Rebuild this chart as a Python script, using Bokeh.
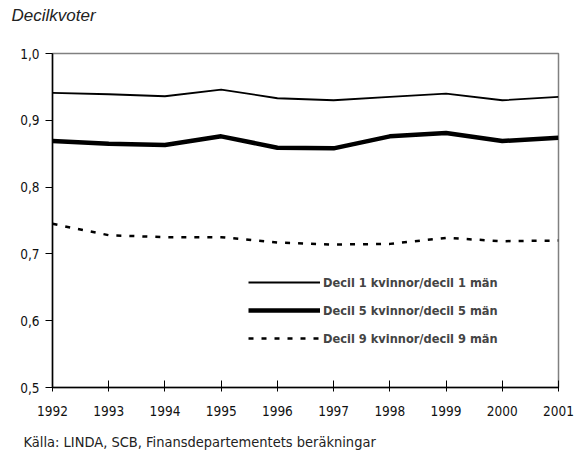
from bokeh.plotting import figure
from bokeh.models import FixedTicker, Legend, LegendItem, Title
from bokeh.embed import file_html
from bokeh.resources import INLINE

years = [1992, 1993, 1994, 1995, 1996, 1997, 1998, 1999, 2000, 2001]
decil1 = [0.941, 0.939, 0.936, 0.946, 0.933, 0.930, 0.935, 0.940, 0.930, 0.935]
decil5 = [0.869, 0.865, 0.863, 0.876, 0.859, 0.858, 0.876, 0.881, 0.869, 0.874]
decil9 = [0.745, 0.728, 0.725, 0.725, 0.717, 0.714, 0.715, 0.724, 0.719, 0.720]
labels = ["Decil 1 kvinnor/decil 1 män", "Decil 5 kvinnor/decil 5 män", "Decil 9 kvinnor/decil 9 män"]
y_ticks = [0.5, 0.6, 0.7, 0.8, 0.9, 1.0]
y_tick_labels = ["0,5", "0,6", "0,7", "0,8", "0,9", "1,0"]
title_text = "Decilkvoter"
source_text = "Källa: LINDA, SCB, Finansdepartementets beräkningar"

NARROW = "'DejaVu Sans Condensed', sans-serif"

p = figure(width=574, height=450, output_backend="svg", toolbar_location=None,
           x_range=(1992, 2001), y_range=(0.5, 1.0),
           min_border_left=52, min_border_right=16, min_border_top=53, min_border_bottom=63)
p.title.text = title_text
p.title.text_font = "Liberation Sans"
p.title.text_font_style = "italic"
p.title.text_font_size = "17px"
p.title.text_color = "#222222"
p.title.align = "left"
p.title.offset = -41
p.title.standoff = 4

# spacer between frame and the title
p.add_layout(Title(text=" ", text_font_size="1px", standoff=24), "above")

p.xgrid.visible = False
p.ygrid.visible = False
p.background_fill_color = "white"
p.border_fill_color = "white"
p.outline_line_color = "#808080"
p.outline_line_width = 1.5

p.xaxis.ticker = FixedTicker(ticks=years)
p.yaxis.ticker = FixedTicker(ticks=y_ticks)
p.yaxis.major_label_overrides = {t: l for t, l in zip(y_ticks, y_tick_labels)}
for ax in (p.xaxis, p.yaxis):
    ax.axis_line_color = "black"
    ax.axis_line_width = 1.5
    ax.major_tick_line_color = "black"
    ax.minor_tick_line_color = None
    ax.major_label_text_font = NARROW
    ax.major_label_text_font_size = "13.5px"
    ax.major_label_text_color = "#111111"
p.xaxis.major_tick_in = 7
p.xaxis.major_tick_out = 4
p.xaxis.major_label_standoff = 14
p.yaxis.major_tick_in = 0
p.yaxis.major_tick_out = 7
p.yaxis.major_label_standoff = 6

r1 = p.line(years, decil1, line_color="black", line_width=1.8)
r5 = p.line(years, decil5, line_color="black", line_width=4.5)
r9 = p.line(years, decil9, line_color="black", line_width=2.5, line_dash="5 8")

legend = Legend(items=[LegendItem(label=labels[0], renderers=[r1]),
                       LegendItem(label=labels[1], renderers=[r5]),
                       LegendItem(label=labels[2], renderers=[r9])],
                location=(196, 39), glyph_width=72, glyph_height=20, label_height=20,
                spacing=8, padding=0, margin=0, label_standoff=3,
                label_text_font=NARROW, label_text_font_style="bold",
                label_text_font_size="12.7px", border_line_alpha=0, background_fill_alpha=0)
p.add_layout(legend, "center")

# spacer between axis labels and the source line
p.add_layout(Title(text=" ", text_font_size="1px", standoff=10), "below")
p.add_layout(Title(text=source_text, align="left",
                   text_font=NARROW, text_font_size="14.5px", text_font_style="normal",
                   text_color="#222222", offset=-29, standoff=0), "below")

open("out.html", "w").write(file_html(p, INLINE))
